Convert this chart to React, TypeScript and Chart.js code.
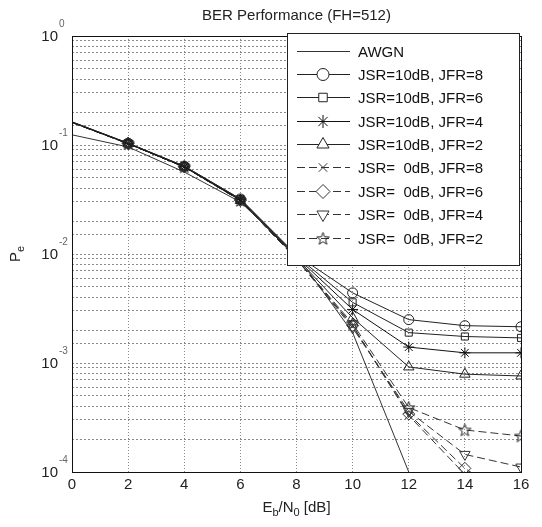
import React, { useEffect, useRef } from 'react';
import { Chart, registerables } from 'chart.js';
import { drawPoint } from 'chart.js/helpers';

Chart.register(...registerables);

// ---------------- data ----------------
const ebn0 = [0, 2, 4, 6, 8, 10, 12, 14, 16];

const awgn = [0.124, 0.096, 0.0565, 0.030, 0.0098, 0.0019, 0.0001, null, null];
const jsr10jfr8 = [0.163, 0.104, 0.064, 0.032, 0.0098, 0.0044, 0.0025, 0.0022, 0.00215];
const jsr10jfr6 = [0.163, 0.104, 0.064, 0.032, 0.0096, 0.0036, 0.0019, 0.00175, 0.0017];
const jsr10jfr4 = [0.162, 0.103, 0.063, 0.0315, 0.0094, 0.0031, 0.0014, 0.00124, 0.00124];
const jsr10jfr2 = [0.161, 0.103, 0.063, 0.031, 0.0092, 0.0026, 0.00092, 0.00079, 0.00076];
const jsr0jfr8 = [0.161, 0.103, 0.063, 0.031, 0.009, 0.0022, 0.00033, 0.000095, 0.00004];
const jsr0jfr6 = [0.161, 0.103, 0.063, 0.031, 0.009, 0.0022, 0.00034, 0.000108, 0.00005];
const jsr0jfr4 = [0.161, 0.103, 0.063, 0.031, 0.009, 0.0021, 0.00036, 0.000145, 0.000111];
const jsr0jfr2 = [0.162, 0.103, 0.063, 0.031, 0.009, 0.0023, 0.00039, 0.000243, 0.000214];

const seriesLabels = [
  'AWGN',
  'JSR=10dB, JFR=8',
  'JSR=10dB, JFR=6',
  'JSR=10dB, JFR=4',
  'JSR=10dB, JFR=2',
  'JSR=  0dB, JFR=8',
  'JSR=  0dB, JFR=6',
  'JSR=  0dB, JFR=4',
  'JSR=  0dB, JFR=2',
];
const seriesValues = [awgn, jsr10jfr8, jsr10jfr6, jsr10jfr4, jsr10jfr2, jsr0jfr8, jsr0jfr6, jsr0jfr4, jsr0jfr2];

const yTickExponents = [0, -1, -2, -3, -4];
const xTickValues = [0, 2, 4, 6, 8, 10, 12, 14, 16];
const titleText = 'BER Performance (FH=512)';

// ---------------- styles ----------------
const FONT = "'Liberation Sans', Arial, Helvetica, sans-serif";

function makePentagram(): HTMLCanvasElement {
  const c = document.createElement('canvas');
  c.width = 15;
  c.height = 15;
  const g = c.getContext('2d')!;
  g.strokeStyle = '#222';
  g.lineWidth = 1;
  const cx = 7.5, cy = 8, R = 6.5, r = 2.7;
  g.beginPath();
  for (let i = 0; i < 10; i++) {
    const a = -Math.PI / 2 + (i * Math.PI) / 5;
    const rr = i % 2 === 0 ? R : r;
    const x = cx + rr * Math.cos(a);
    const y = cy + rr * Math.sin(a);
    if (i === 0) g.moveTo(x, y); else g.lineTo(x, y);
  }
  g.closePath();
  g.stroke();
  return c;
}

type Sty = { style: any; rotation: number; radius: number; dash: number[]; color: string; width: number };

function buildStyles(pent: HTMLCanvasElement): Sty[] {
  return [
    { style: 'line', rotation: 0, radius: 0, dash: [], color: '#333', width: 1 },
    { style: 'circle', rotation: 0, radius: 5, dash: [], color: '#222', width: 1 },
    { style: 'rect', rotation: 0, radius: 5, dash: [], color: '#222', width: 1 },
    { style: 'star', rotation: 0, radius: 5.5, dash: [], color: '#111', width: 1 },
    { style: 'triangle', rotation: 0, radius: 6, dash: [], color: '#222', width: 1 },
    { style: 'crossRot', rotation: 0, radius: 5, dash: [8, 4], color: '#333', width: 1 },
    { style: 'rectRot', rotation: 0, radius: 6, dash: [8, 4], color: '#333', width: 1 },
    { style: 'triangle', rotation: 180, radius: 6, dash: [8, 4], color: '#333', width: 1 },
    { style: pent, rotation: 0, radius: 6, dash: [8, 4], color: '#333', width: 1 },
  ];
}

// ---------------- plugins ----------------
const decorPlugin = {
  id: 'decor',
  afterDraw(chart: any, _a: any, opts: any) {
    const ctx: CanvasRenderingContext2D = chart.ctx;
    const area = chart.chartArea;
    const ys = chart.scales.y;
    const styles: Sty[] = opts.styles;

    ctx.save();
    // axes box
    ctx.strokeStyle = '#111';
    ctx.lineWidth = 1;
    ctx.setLineDash([]);
    ctx.strokeRect(Math.round(area.left) + 0.5, Math.round(area.top) + 0.5,
      Math.round(area.right - area.left), Math.round(area.bottom - area.top));

    // y tick labels 10^k
    ctx.fillStyle = '#222';
    for (const e of yTickExponents) {
      const y = ys.getPixelForValue(Math.pow(10, e));
      ctx.font = `15px ${FONT}`;
      ctx.textAlign = 'right';
      ctx.textBaseline = 'middle';
      ctx.fillText('10', 58, y + 1);
      ctx.font = `10px ${FONT}`;
      ctx.textAlign = 'left';
      ctx.fillStyle = '#666';
      ctx.fillText(String(e), 59, y - 12);
      ctx.fillStyle = '#222';
    }

    // title
    ctx.font = `15px ${FONT}`;
    ctx.textAlign = 'center';
    ctx.textBaseline = 'middle';
    ctx.fillStyle = '#222';
    ctx.fillText(titleText, (area.left + area.right) / 2, 16);

    // x axis title: E_b/N_0 [dB]
    const parts: [string, boolean][] = [['E', false], ['b', true], ['/N', false], ['0', true], [' [dB]', false]];
    let total = 0;
    for (const [t, sub] of parts) {
      ctx.font = sub ? `11px ${FONT}` : `15px ${FONT}`;
      total += ctx.measureText(t).width;
    }
    let xx = (area.left + area.right) / 2 - total / 2;
    ctx.textAlign = 'left';
    ctx.textBaseline = 'alphabetic';
    for (const [t, sub] of parts) {
      ctx.font = sub ? `11px ${FONT}` : `15px ${FONT}`;
      ctx.fillText(t, xx, sub ? 516 : 512);
      xx += ctx.measureText(t).width;
    }

    // y axis title: P_e rotated
    ctx.save();
    ctx.translate(20, (area.top + area.bottom) / 2);
    ctx.rotate(-Math.PI / 2);
    ctx.font = `15px ${FONT}`;
    const pw = ctx.measureText('P').width;
    ctx.font = `11px ${FONT}`;
    const ew = ctx.measureText('e').width;
    let sx = -(pw + ew) / 2;
    ctx.font = `15px ${FONT}`;
    ctx.fillText('P', sx, 0);
    ctx.font = `11px ${FONT}`;
    ctx.fillText('e', sx + pw, 4);
    ctx.restore();

    // legend box
    const L = 287, T = 33, R = 519, B = 265;
    ctx.fillStyle = '#fff';
    ctx.fillRect(L, T, R - L, B - T);
    ctx.strokeStyle = '#222';
    ctx.lineWidth = 1;
    ctx.setLineDash([]);
    ctx.strokeRect(L + 0.5, T + 0.5, R - L, B - T);
    const rowH = (237.5 - 50.5) / 8;
    for (let i = 0; i < seriesLabels.length; i++) {
      const y = Math.round(50.5 + i * rowH) + 0.5;
      const s = styles[i];
      ctx.strokeStyle = s.color;
      ctx.lineWidth = s.width;
      ctx.setLineDash(s.dash);
      ctx.beginPath();
      ctx.moveTo(297, y);
      ctx.lineTo(350, y);
      ctx.stroke();
      ctx.setLineDash([]);
      if (s.radius > 0) {
        ctx.strokeStyle = s.color;
        ctx.fillStyle = '#fff';
        ctx.lineWidth = 1;
        drawPoint(ctx, { pointStyle: s.style, rotation: s.rotation, radius: s.radius + 1, borderWidth: 1 } as any, 323, y);
      }
      ctx.fillStyle = '#111';
      ctx.font = `15px ${FONT}`;
      ctx.textAlign = 'left';
      ctx.textBaseline = 'middle';
      ctx.fillText(seriesLabels[i], 358, y + 1);
    }
    ctx.restore();
  },
};

export default function App() {
  const ref = useRef<HTMLCanvasElement | null>(null);

  useEffect(() => {
    if (!ref.current) return;
    const pent = makePentagram();
    const styles = buildStyles(pent);

    const datasets = seriesValues.map((vals, i) => {
      const s = styles[i];
      return {
        label: seriesLabels[i],
        data: vals.map((v, k) => ({ x: ebn0[k], y: v })),
        borderColor: s.color,
        borderWidth: s.width,
        borderDash: s.dash,
        backgroundColor: 'rgba(0,0,0,0)',
        pointStyle: s.style,
        pointRotation: s.rotation,
        pointRadius: ebn0.map((x) => (x === 0 || s.radius === 0 ? 0 : s.radius)),
        pointBorderColor: s.color,
        pointBackgroundColor: 'rgba(0,0,0,0)',
        pointBorderWidth: 1,
        pointHoverRadius: 0,
        tension: 0,
        fill: false,
        spanGaps: false,
      };
    });

    const chart = new Chart(ref.current, {
      type: 'line',
      data: { datasets },
      options: {
        animation: false,
        responsive: false,
        devicePixelRatio: 1,
        layout: { padding: { left: 0, top: 36, right: 21, bottom: 0 } },
        plugins: {
          legend: { display: false },
          title: { display: false },
          tooltip: { enabled: false },
          decor: { styles },
        } as any,
        scales: {
          x: {
            type: 'linear',
            min: 0,
            max: 16,
            afterBuildTicks: (scale: any) => {
              scale.ticks = xTickValues.map((v) => ({ value: v }));
            },
            afterFit: (scale: any) => { scale.height = 55; },
            ticks: {
              font: { family: FONT, size: 15 },
              color: '#222',
              padding: 4,
              maxRotation: 0,
              autoSkip: false,
            },
            grid: { color: '#8a8a8a', lineWidth: 1, drawTicks: false },
            border: { display: false, dash: [1, 2] },
          },
          y: {
            type: 'logarithmic',
            min: 1e-4,
            max: 1,
            afterFit: (scale: any) => { scale.width = 72; },
            ticks: { display: false, autoSkip: false },
            grid: { color: '#8a8a8a', lineWidth: 1, drawTicks: false },
            border: { display: false, dash: [2, 2] },
          },
        },
      } as any,
      plugins: [decorPlugin as any],
    });
    return () => chart.destroy();
  }, []);

  return (
    <div style={{ position: 'absolute', left: 0, top: 0, width: 542, height: 527, background: '#fff' }}>
      <canvas ref={ref} width={542} height={527} style={{ width: 542, height: 527, display: 'block' }} />
    </div>
  );
}
